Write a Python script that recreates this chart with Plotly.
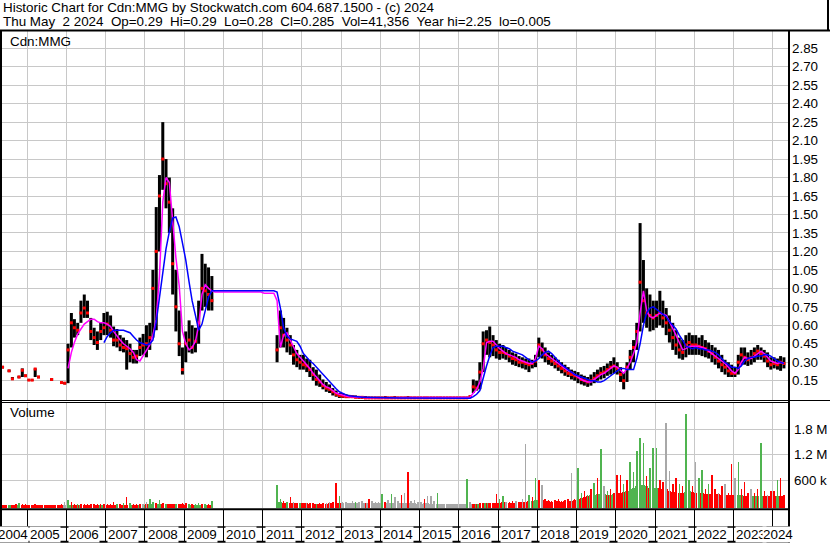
import datetime as dt
import pandas as pd
import plotly.graph_objects as go

N = None

# ---------------- data (monthly, May 2004 .. Apr 2024) ----------------
months = [d.strftime("%Y-%m-%d") for d in
          pd.date_range("2004-05-01", periods=240, freq="MS") + pd.Timedelta(days=14)]

price_high = [
    .27, N, .24, .18, N, .19, .25, .20,                                  # 2004 May-Dec
    .16, .16, .25, .19, N, N, N, .17, N, N, .14, .14,                    # 2005
    .45, .70, .65, .62, .80, .85, .80, .66, .58, .55, .62, .70,          # 2006
    .71, .68, .59, .57, .52, .50, .48, .45, .40, .40, .50, .53,          # 2007
    .60, .62, 1.05, 1.56, 1.82, 2.25, 1.95, 1.80, 1.55, 1.05, .72, .42,  # 2008
    .55, .64, .60, .58, .80, 1.18, 1.10, 1.07, 1.00, N, N, N,            # 2009
    N, N, N, N, N, N, N, N, N, N, N, N,                                  # 2010
    N, N, N, N, .52, .72, .66, .58, .52, .44, .40, .36,                  # 2011
    .36, .33, .32, .26, .24, .20, .16, .14, .12, .09, .07, .05,          # 2012
    .05, .04, .035, .03, .03, .025, .025, .025, .02, .02, .02, .02,      # 2013
    .02, .025, .02, .02, .025, .02, .02, .02, .025, .02, .02, .02,       # 2014
    .02, .02, .02, .02, .02, .02, .02, .02, .02, .02, .02, .02,          # 2015
    .02, .02, .02, .03, .16, .15, .30, .55, .56, .59, .52, .48,          # 2016
    .45, .44, .42, .40, .38, .37, .35, .34, .33, .33, .32, .36,          # 2017
    .50, .46, .42, .38, .36, .34, .32, .30, .28, .26, .24, .23,          # 2018
    .22, .20, .19, .18, .20, .22, .24, .26, .27, .29, .31, .34,          # 2019
    .30, .26, .22, .30, .40, .48, .62, 1.43, 1.13, .90, .85, .80,        # 2020
    .80, .88, .80, .74, .68, .62, .56, .50, .48, .52, .54, .52,          # 2021
    .52, .50, .52, .48, .46, .44, .42, .40, .36, .32, .30, .28,          # 2022
    .26, .36, .42, .42, .38, .40, .42, .44, .42, .40, .38, .34,          # 2023
    .34, .33, .35, .34,                                                  # 2024 Jan-Apr
]

price_low = [
    .25, N, .22, .16, N, .17, .18, .18,
    .15, .15, .18, .17, N, N, N, .15, N, N, .13, .12,
    .13, .42, .50, .52, .62, .66, .66, .48, .44, .40, .48, .52,
    .52, .50, .43, .42, .39, .38, .24, .30, .29, .29, .35, .36,
    .34, .40, .50, .56, 1.20, 1.70, 1.55, 1.35, .85, .55, .35, .20,
    .30, .38, .37, .38, .45, .72, .75, .72, .72, N, N, N,
    N, N, N, N, N, N, N, N, N, N, N, N,
    N, N, N, N, .30, .42, .42, .38, .36, .28, .26, .24,
    .24, .22, .18, .15, .11, .10, .08, .06, .05, .03, .02, .01,
    .01, .01, .01, .01, .01, .005, .005, .005, .005, .005, .005, .005,
    .005, .005, .005, .005, .005, .005, .005, .005, .005, .005, .005, .005,
    .005, .005, .005, .005, .005, .005, .005, .005, .005, .005, .005, .005,
    .005, .005, .005, .01, .05, .07, .08, .22, .36, .34, .35, .33,
    .32, .33, .32, .30, .28, .27, .26, .25, .24, .22, .25, .26,
    .34, .33, .30, .28, .27, .25, .23, .21, .19, .18, .16, .15,
    .13, .12, .11, .10, .11, .13, .15, .16, .17, .19, .20, .21,
    .20, .14, .08, .14, .24, .30, .40, .55, .62, .58, .55, .56,
    .58, .60, .58, .52, .46, .40, .36, .33, .32, .34, .36, .36,
    .36, .36, .35, .34, .33, .30, .28, .25, .22, .20, .18, .18,
    .18, .20, .28, .28, .27, .28, .30, .32, .32, .30, .26, .24,
    .25, .24, .23, .25,
]

price_close = [
    .26, N, .23, .165, N, .18, .235, .19,
    .155, .155, .245, .18, N, N, N, .16, N, N, .135, .13,
    .40, .62, .58, .56, .70, .74, .70, .55, .50, .46, .55, .58,
    .61, .56, .48, .48, .44, .42, .41, .37, .34, .35, .42, .44,
    .45, .50, .90, 1.20, 1.65, 1.95, 1.75, 1.60, 1.10, .75, .45, .24,
    .45, .48, .42, .47, .62, .90, .88, .85, .80, N, N, N,
    N, N, N, N, N, N, N, N, N, N, N, N,
    N, N, N, N, .40, .58, .52, .48, .44, .36, .32, .30,
    .28, .27, .24, .20, .16, .14, .11, .09, .08, .06, .04, .03,
    .025, .02, .02, .02, .015, .015, .015, .01, .01, .01, .01, .01,
    .01, .01, .01, .01, .01, .01, .01, .01, .01, .01, .01, .01,
    .01, .01, .01, .01, .01, .01, .01, .01, .01, .01, .01, .01,
    .01, .01, .01, .02, .10, .09, .22, .45, .48, .46, .44, .40,
    .38, .38, .37, .35, .33, .32, .30, .30, .29, .28, .29, .31,
    .44, .40, .36, .33, .31, .29, .27, .25, .23, .21, .20, .19,
    .18, .16, .15, .14, .15, .17, .19, .21, .22, .24, .26, .27,
    .25, .20, .15, .26, .34, .42, .55, .95, .80, .70, .68, .66,
    .68, .70, .66, .62, .56, .50, .44, .40, .38, .44, .46, .44,
    .44, .43, .42, .41, .39, .37, .34, .31, .28, .26, .23, .21,
    .21, .30, .36, .34, .32, .34, .37, .39, .37, .35, .31, .28,
    .29, .28, .30, .29,
]

ma_fast = [
    N, N, N, N, N, N, N, N,
    N, N, N, N, N, N, N, N, N, N, N, N,
    .25, .38, .46, .53, .57, .61, .63, .65, .65, .63, .62, .62,
    .61, .59, .55, .51, .48, .45, .43, .41, .38, .32, .31, .35,
    .39, .44, .52, .65, 1.00, 1.60, 1.80, 1.76, 1.45, 1.15, .92, .55,
    .45, .40, .42, .47, .60, .85, .93, .90, .88, .87, .87, .87,
    .87, .87, .87, .87, .87, .87, .87, .87, .87, .87, .87, .87,
    .86, .86, .86, .86, .80, .42, .52, .54, .48, .42, .37, .34,
    .31, .28, .25, .21, .18, .15, .12, .10, .09, .07, .05, .04,
    .03, .025, .02, .02, .018, .015, .015, .012, .012, .01, .01, .01,
    .01, .01, .01, .01, .01, .01, .01, .01, .01, .01, .01, .01,
    .01, .01, .01, .01, .01, .01, .01, .01, .01, .01, .01, .01,
    .01, .01, .01, .015, .05, .08, .14, .25, .46, .47, .47, .44,
    .41, .39, .37, .36, .35, .34, .32, .31, .30, .29, .29, .33,
    .43, .41, .37, .35, .33, .31, .29, .27, .25, .23, .22, .20,
    .18, .16, .15, .14, .14, .16, .18, .20, .21, .23, .25, .27,
    .26, .23, .21, .25, .30, .37, .46, .70, .88, .72, .67, .66,
    .68, .70, .69, .68, .63, .58, .52, .46, .40, .41, .43, .43,
    .43, .43, .42, .41, .39, .37, .35, .33, .31, .29, .26, .23,
    .21, .24, .30, .34, .33, .33, .35, .37, .39, .37, .34, .31,
    .30, .29, .30, .29,
]

ma_slow = [
    N, N, N, N, N, N, N, N,
    N, N, N, N, N, N, N, N, N, N, N, N,
    N, N, N, N, N, N, N, N, N, N, N, .46,
    .51, .54, .56, .56, .56, .56, .55, .54, .51, .48, .46, .45,
    .44, .45, .48, .63, .82, 1.04, 1.22, 1.36, 1.47, 1.48, 1.40, 1.27,
    1.13, .95, .80, .68, .56, .61, .72, .83, .88, .88, .88, .88,
    .88, .88, .88, .88, .88, .88, .88, .88, .88, .88, .88, .88,
    .88, .88, .88, .88, .87, .74, .58, .51, .49, .48, .47, .43,
    .37, .34, .31, .29, .26, .23, .20, .17, .14, .11, .085, .06,
    .045, .035, .028, .024, .02, .018, .016, .015, .014, .013, .012, .012,
    .01, .01, .01, .01, .01, .01, .01, .01, .01, .01, .01, .01,
    .008, .008, .008, .008, .008, .008, .008, .008, .008, .008, .008, .008,
    .008, .008, .008, .008, .02, .04, .07, .18, .27, .35, .42, .43,
    .43, .43, .42, .41, .39, .38, .37, .36, .34, .32, .30, .31,
    .33, .36, .38, .39, .37, .34, .31, .28, .26, .24, .22, .20,
    .19, .18, .17, .16, .15, .15, .14, .14, .15, .17, .19, .21,
    .23, .25, .25, .24, .24, .24, .33, .45, .60, .70, .74, .75,
    .73, .71, .69, .67, .63, .60, .57, .52, .48, .43, .42, .41,
    .42, .41, .41, .40, .40, .39, .38, .36, .33, .30, .28, .26,
    .26, .25, .27, .31, .33, .34, .34, .35, .35, .36, .36, .35,
    .33, .31, .30, .29,
]

# volume in thousands of shares: largest single-day bar and typical level per month
vol_peak_k = [
    20, 15, 15, 20, 25, 65, 30, 35,
    20, 15, 25, 20, 15, 20, 15, 20, 15, 20, 25, 90,
    130, 80, 40, 30, 40, 35, 30, 25, 30, 25, 30, 35,
    30, 40, 75, 35, 40, 50, 207, 50, 30, 35, 30, 40,
    90, 152, 80, 50, 120, 60, 45, 40, 35, 40, 45, 70,
    50, 40, 35, 40, 55, 40, 35, 40, 105, N, N, N,
    N, N, N, N, N, N, N, N, N, N, N, N,
    N, N, N, N, 482, 150, 110, 90, 190, 80, 70, 60,
    60, 70, 50, 55, 45, 60, 50, 70, 90, 80, 520, 220,
    80, 90, 70, 100, 80, 90, 100, 70, 150, 110, 90, 80,
    260, 80, 120, 280, 200, 100, 240, 300, 780, 100, 135, 80,
    80, 150, 220, 220, 100, 290, 40, 30, 40, 30, 35, 40,
    30, 40, 617, 90, 40, 40, 50, 60, 50, 60, 70, 270,
    150, 220, 90, 80, 100, 110, 90, 150, 1450, 250, 200, 640,
    600, 480, 150, 120, 100, 120, 150, 100, 130, 150, 757, 150,
    875, 300, 350, 250, 400, 530, 640, 1320, 450, 350, 400, 300,
    720, 720, 500, 600, 1030, 800, 1290, 1580, 1460, 700, 880, 1350,
    1350, 600, 550, 1930, 820, 500, 640, 500, 450, 2150, 600, 450,
    1030, 640, 840, 400, 500, 720, 400, 300, 450, 500, 300, 976,
    650, 1020, 400, 550, 300, 400, 300, 400, 1480, 350, 250, 350,
    350, 600, 640, 250,
]
vol_peak_dir = ("rrgrrgrr" "rrrrrrrrrrrn" "grrgrrrrrrrr" "rrrgrgrgrrrn" "nggrgrgrrgrr"
                "rgrggrgrgnnn" "nnnnnnnnnnnn" "nnnnggrgrnrg" "rnrrgrrnnrrg" "nnnngnnrrnnn"
                "grngnnrnrnnn" "nrnnngnnnnnn" "nngnrrrrrrrr" "ggnrrnrnngrg" "rnrrrrrrrrnr"
                "ggrgrgrgngrr" "rrgrgggggrgg" "grrnnrrgrggr" "nggrgrrnrnrr" "ngrrrnrrgrnr"
                "rgrr")

vol_base_k = [
    10, 10, 10, 10, 10, 10, 10, 10,
    10, 10, 10, 10, 10, 10, 10, 10, 10, 10, 10, 10,
    20, 20, 20, 20, 20, 20, 20, 20, 20, 20, 20, 20,
    20, 20, 20, 20, 20, 20, 20, 20, 20, 20, 20, 20,
    25, 25, 25, 25, 25, 25, 25, 25, 25, 25, 25, 25,
    20, 20, 20, 20, 20, 20, 20, 20, 20, N, N, N,
    N, N, N, N, N, N, N, N, N, N, N, N,
    N, N, N, N, 80, 90, 70, 60, 60, 50, 50, 50,
    50, 50, 40, 40, 40, 40, 40, 40, 50, 50, 60, 60,
    50, 50, 50, 60, 50, 60, 50, 50, 60, 50, 50, 50,
    60, 50, 60, 60, 60, 50, 60, 60, 70, 50, 50, 40,
    40, 50, 50, 40, 40, 40, 30, 30, 30, 30, 30, 30,
    30, 30, 30, 30, 30, 30, 40, 50, 50, 50, 60, 60,
    60, 80, 80, 70, 70, 60, 80, 80, 90, 100, 100, 120,
    120, 120, 100, 100, 90, 100, 100, 90, 100, 110, 110, 130,
    150, 180, 200, 220, 240, 250, 260, 280, 260, 240, 250, 280,
    300, 300, 320, 350, 380, 420, 450, 480, 480, 450, 420, 420,
    420, 420, 400, 380, 350, 320, 320, 300, 300, 320, 330, 320,
    300, 300, 300, 280, 280, 270, 260, 260, 250, 250, 250, 250,
    250, 250, 240, 230, 220, 220, 220, 220, 230, 230, 220, 220,
    220, 220, 230, 220,
]
vol_base_dir = ("rrgrrgrr" "rrrrrrrrrrrn" "ggrrgrrrrrgg" "rrrrrrrgrrgg" "rggggrrrrrrr"
                "rgrggggrrnnn" "nnnnnnnnnnnn" "nnnnggrrrrrr" "rrrrrrrrrrrr" "nnnnnnnnnnnn"
                "nnnnnnnnnnnn" "nnnnnnnnnnnn" "nnnnrggggrrr" "rrrrrrrrrrgg" "grrrrrrrrrrr"
                "rrrrgggggrgg" "rrrgggggggrg" "grrrrrrrrggr" "rrrrrrrrrrrr" "rggrrggggrrr"
                "rgrr")

price_ticks = [0.15, 0.30, 0.45, 0.60, 0.75, 0.90, 1.05, 1.20, 1.35, 1.50, 1.65, 1.80,
               1.95, 2.10, 2.25, 2.40, 2.55, 2.70, 2.85]
vol_ticks = [600000, 1200000, 1800000]
vol_tick_text = ["600 k", "1.2 M", "1.8 M"]
year_labels = [str(y) for y in range(2004, 2025)]

header_1 = "Historic Chart for Cdn:MMG by Stockwatch.com 604.687.1500 - (c) 2024"
header_2 = ("Thu May  2 2024  Op=0.29  Hi=0.29  Lo=0.28  Cl=0.285  "
            "Vol=41,356  Year hi=2.25  lo=0.005")

for arr in (price_high, price_low, price_close, ma_fast, ma_slow, vol_peak_k, vol_base_k):
    assert len(arr) == 240, len(arr)
assert len(vol_peak_dir) == 240 and len(vol_base_dir) == 240

# ---------------- styling / layout ----------------
W, H = 830, 543
FONT = "Arial, Liberation Sans, sans-serif"
FS = 13.4
GRID = "#c8c8c8"
COL = {"g": "#50b450", "r": "#ff0000", "n": "#a8a8a8"}
X_START, X_END = "2004-05-10", "2024-05-23"
VOL_FLOOR = -58800


def fx(px):
    return px / W


def fy(py):
    return 1 - py / H


DAY_MS = 86400000

fig = go.Figure()

# price panel
fig.add_trace(go.Ohlc(x=months, open=price_close, high=price_high, low=price_low,
                      close=price_close, tickwidth=0,
                      increasing=dict(line=dict(color="black", width=3.0)),
                      decreasing=dict(line=dict(color="black", width=3.0)),
                      xaxis="x", yaxis="y", hoverinfo="skip"))
fig.add_trace(go.Scatter(x=months, y=price_close, mode="markers",
                         marker=dict(symbol="square", size=3, color="#ff0000", line=dict(width=0)),
                         xaxis="x", yaxis="y", hoverinfo="skip"))
fig.add_trace(go.Scatter(x=months, y=ma_fast, mode="lines",
                         line=dict(color="#ff00ff", width=1.5),
                         xaxis="x", yaxis="y", hoverinfo="skip"))
fig.add_trace(go.Scatter(x=months, y=ma_slow, mode="lines",
                         line=dict(color="#0000ff", width=1.5),
                         xaxis="x", yaxis="y", hoverinfo="skip"))

# volume panel
base_vals = [None if v is None else v * 1000 - VOL_FLOOR for v in vol_base_k]
peak_vals = [None if v is None else v * 1000 - VOL_FLOOR for v in vol_peak_k]
fig.add_trace(go.Bar(x=months, y=base_vals, base=VOL_FLOOR,
                     marker=dict(color=[COL[c] for c in vol_base_dir], line=dict(width=0)),
                     width=28 * DAY_MS, xaxis="x2", yaxis="y2", hoverinfo="skip"))
fig.add_trace(go.Bar(x=months, y=peak_vals, base=VOL_FLOOR,
                     marker=dict(color=[COL[c] for c in vol_peak_dir], line=dict(width=0)),
                     width=14 * DAY_MS, xaxis="x2", yaxis="y2", hoverinfo="skip"))

# empty trace to hold the date band axis
fig.add_trace(go.Scatter(x=[X_START, X_END], y=[0, 0], mode="lines",
                         line=dict(width=0), xaxis="x3", yaxis="y3", hoverinfo="skip"))

xcommon = dict(domain=[fx(2), fx(788)], range=[X_START, X_END], type="date",
               showticklabels=False, showgrid=True, gridcolor=GRID, gridwidth=1,
               dtick="M12", tick0="2004-01-01", ticks="", zeroline=False,
               showline=False, rangeslider=dict(visible=False), fixedrange=True,
               automargin=False)

fig.update_layout(
    template="none",
    width=W, height=H,
    margin=dict(l=0, r=0, t=0, b=0, pad=0, autoexpand=False),
    paper_bgcolor="white", plot_bgcolor="white",
    showlegend=False, barmode="overlay", bargap=0,
    font=dict(family=FONT, size=FS, color="black"),
    xaxis=dict(anchor="y", **xcommon),
    xaxis2=dict(anchor="y2", matches="x", **xcommon),
    xaxis3=dict(anchor="y3", matches="x", **{**xcommon, "gridcolor": "black"}),
    yaxis=dict(domain=[fy(400), fy(31)], anchor="x", side="right",
               range=[-0.0067, 2.990], tickvals=price_ticks,
               ticktext=[f"{v:.2f}" for v in price_ticks],
               showgrid=True, gridcolor=GRID, zeroline=False, ticks="",
               ticklabelstandoff=3, tickfont=dict(family=FONT, size=FS, color="black"),
               fixedrange=True, automargin=False, showline=False),
    yaxis2=dict(domain=[fy(508), fy(403)], anchor="x2", side="right",
                range=[VOL_FLOOR, 2411800], tickvals=vol_ticks, ticktext=vol_tick_text,
                showgrid=True, gridcolor=GRID, zeroline=False, ticks="",
                ticklabelstandoff=5, tickfont=dict(family=FONT, size=FS, color="black"),
                fixedrange=True, automargin=False, showline=False),
    yaxis3=dict(domain=[fy(542), fy(510)], anchor="x3", range=[0, 1],
                visible=False, showgrid=False, fixedrange=True, automargin=False),
)


def line(x0, y0, x1, y1, w):
    return dict(type="line", xref="paper", yref="paper",
                x0=fx(x0), y0=fy(y0), x1=fx(x1), y1=fy(y1),
                line=dict(color="black", width=w), layer="above")


shapes = [
    line(0, 30.5, 830, 30.5, 2),     # header bottom
    line(828, 0, 828, 30.5, 2),      # header right
    line(789, 30, 789, 543, 2),      # plot right border
    line(1, 30, 1, 542, 2),          # left border
    line(0, 400.5, 830, 400.5, 1),   # price / volume separator
    line(0, 402.5, 789, 402.5, 1),
    line(0, 509.2, 789, 509.2, 2),   # volume bottom
    line(0, 527, 789, 527, 1.5),     # band / labels
    line(0, 541.8, 789, 541.8, 2),   # bottom
]

annotations = [
    dict(text=header_1.replace(" ", "\u00a0"), x=fx(1), y=fy(7.5), xref="paper", yref="paper",
         xanchor="left", yanchor="middle", showarrow=False, font=dict(size=FS)),
    dict(text=header_2.replace(" ", "\u00a0"), x=fx(1), y=fy(21.5), xref="paper", yref="paper",
         xanchor="left", yanchor="middle", showarrow=False, font=dict(size=FS)),
    dict(text="Cdn:MMG", x=fx(8), y=fy(41.5), xref="paper", yref="paper",
         xanchor="left", yanchor="middle", showarrow=False, font=dict(size=FS)),
    dict(text="Volume", x=fx(8), y=fy(413), xref="paper", yref="paper",
         xanchor="left", yanchor="middle", showarrow=False, font=dict(size=FS)),
]

xs = dt.datetime.fromisoformat(X_START)
xe = dt.datetime.fromisoformat(X_END)
for lab in year_labels:
    y = int(lab)
    a = max(dt.datetime(y, 1, 1), xs)
    b = min(dt.datetime(y + 1, 1, 1), xe)
    mid = a + (b - a) / 2
    annotations.append(dict(text=lab, x=mid.strftime("%Y-%m-%d %H:%M"), y=fy(534.5),
                            xref="x3", yref="paper", xanchor="center", yanchor="middle",
                            xshift=-2, showarrow=False, bgcolor="white", borderpad=0,
                            font=dict(size=FS)))

fig.update_layout(shapes=shapes, annotations=annotations)
fig.write_html("out.html",
               config={"displayModeBar": False, "staticPlot": True},
               post_script="document.body.style.margin='0';document.body.style.padding='0';")
